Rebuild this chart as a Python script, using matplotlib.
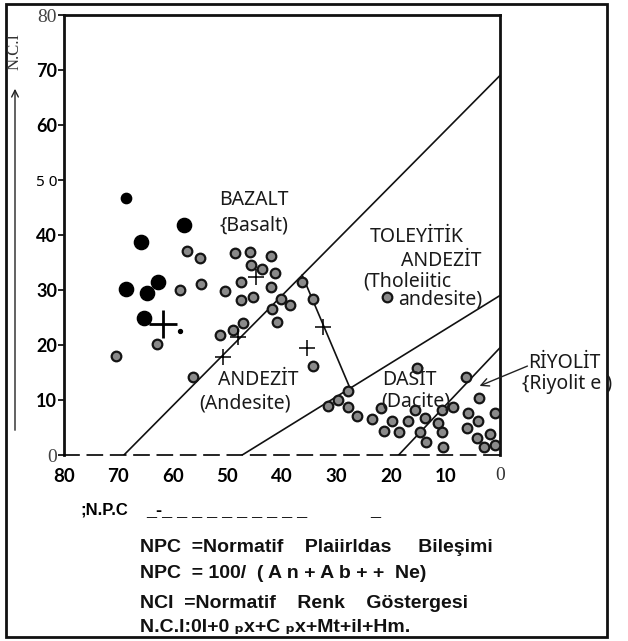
import numpy as np
import matplotlib.pyplot as plt
from matplotlib.patches import Rectangle, FancyArrowPatch

# NPC (normative plagioclase composition) vs N.C.I (normative colour index)

# large filled circles
black_npc = [58.0, 65.8, 68.7, 64.7, 62.7, 65.4]
black_nci = [41.8, 38.8, 30.2, 29.4, 31.4, 24.9]

# smaller filled circle and the tiny dot
small_npc = [68.7]
small_nci = [46.7]
dot_npc = [58.8]
dot_nci = [22.6]

# stippled grey circles
grey_npc = [57.4, 55.0, 58.7, 54.9, 63.0, 70.5, 56.3,
            48.7, 45.9, 42.0, 45.6, 43.6, 41.3, 47.6, 42.0, 50.5, 47.6,
            45.4, 40.2, 38.5, 41.9, 36.3, 34.4, 41.0, 47.1, 49.0, 51.4,
            34.3, 20.7,
            27.8, 29.7, 31.5, 27.8, 26.3, 21.9, 23.4, 19.9, 21.3, 18.5,
            16.8, 15.3, 6.3, 3.9, 15.6, 10.7, 8.6, 5.8, 0.9, 13.8, 11.4,
            4.0, 6.1, 1.8, 10.7, 14.7, 4.3, 13.6, 10.4, 2.9, 0.9]
grey_nci = [37.1, 35.9, 30.0, 31.1, 20.2, 18.0, 14.1,
            36.7, 36.9, 36.2, 34.5, 33.8, 33.1, 31.4, 30.6, 29.8, 28.2,
            28.7, 28.3, 27.3, 26.5, 31.4, 28.4, 24.1, 24.0, 22.7, 21.8,
            16.1, 28.7,
            11.6, 10.0, 8.9, 8.7, 7.1, 8.5, 6.5, 6.2, 4.4, 4.2,
            6.1, 15.8, 14.2, 10.3, 8.2, 8.2, 8.8, 7.7, 7.7, 6.7, 5.9,
            6.1, 4.9, 3.9, 4.2, 4.1, 3.1, 2.4, 1.4, 1.4, 1.8]

# crosses
cross_npc = [44.8, 48.0, 50.9, 32.5, 35.5]
cross_nci = [32.3, 21.4, 17.8, 23.2, 19.4]
big_cross_npc = [61.8]
big_cross_nci = [23.9]

# field boundaries (NPC, NCI end points)
line1_npc, line1_nci = [69.0, 0.0], [0.0, 69.0]
line2_npc, line2_nci = [47.3, 0.0], [0.0, 29.0]
line3_npc, line3_nci = [18.6, 0.0], [0.0, 19.5]
tie_npc, tie_nci = [36.3, 27.5], [32.7, 12.1]

xticks = [80, 70, 60, 50, 40, 30, 20, 10, 0]
yticks = [0, 10, 20, 30, 40, 50, 60, 70, 80]
ytick_labels = ['0', '10', '20', '30', '40', '5 0', '60', '70', '80']

W, H = 628, 641


def fx(px):
    return px / W


def fy(py):
    return 1 - py / H


fig = plt.figure(figsize=(W / 100, H / 100), dpi=100)
ax = fig.add_axes([fx(64), fy(455), fx(500) - fx(64), fy(15) - fy(455)])
ax.set_xlim(80, 0)
ax.set_ylim(0, 80)

lc = '#111111'
for xs, ys in [(line1_npc, line1_nci), (line2_npc, line2_nci),
               (line3_npc, line3_nci), (tie_npc, tie_nci)]:
    ax.plot(xs, ys, color=lc, lw=1.2, zorder=2)

ax.scatter(grey_npc, grey_nci, s=48, facecolor='#8a8a8a', edgecolor='#141414',
           linewidth=1.6, zorder=3)
ax.scatter(black_npc, black_nci, s=105, color='black', zorder=3)
ax.scatter(small_npc, small_nci, s=55, color='black', zorder=3)
ax.scatter(dot_npc, dot_nci, s=8, color='black', zorder=3)
ax.scatter(cross_npc, cross_nci, s=130, marker='+', color='black',
           linewidth=1.1, zorder=3)
ax.scatter(big_cross_npc, big_cross_nci, s=420, marker='+', color='black',
           linewidth=2.0, zorder=3)

# field names
lab = dict(family=['Noto Sans', 'DejaVu Sans'], fontsize=14, color='#1a1a1a',
           ha='center', va='center')
ax.text(45.1, 46.4, 'BAZALT', **lab)
ax.text(45.1, 41.8, '{Basalt)', **lab)
ax.text(15.2, 39.6, 'TOLEYİTİK', **lab)
ax.text(10.8, 35.2, 'ANDEZİT', **lab)
ax.text(17.0, 31.6, '(Tholeiitic', **lab)
ax.text(11.0, 28.2, 'andesite)', **lab)
ax.text(44.4, 13.6, 'ANDEZİT', **lab)
ax.text(46.8, 9.3, '(Andesite)', **lab)
ax.text(16.7, 13.6, 'DASİT', **lab)
ax.text(15.4, 9.8, '(Dacite)', **lab)

# frame of the axes
for side in ['left', 'top', 'right']:
    ax.spines[side].set_linewidth(2.0)
    ax.spines[side].set_color('#111111')
ax.spines['bottom'].set_linestyle((0, (9, 5)))
ax.spines['bottom'].set_linewidth(1.2)

ax.set_yticks(yticks)
ax.set_yticklabels(ytick_labels)
ax.set_xticks(xticks)
ax.set_xticklabels([str(v) for v in xticks])
ax.tick_params(axis='y', direction='out', length=4, width=1.2, pad=1)
ax.tick_params(axis='x', length=0, pad=9)

for t in ax.get_yticklabels():
    v = t.get_text()
    if v in ('80', '0'):
        t.set_fontfamily(['Liberation Serif', 'DejaVu Serif'])
        t.set_fontsize(14)
        t.set_color('#444444')
    elif v == '5 0':
        t.set_fontfamily(['Noto Sans', 'DejaVu Sans'])
        t.set_fontsize(11)
    else:
        t.set_fontfamily(['Lato', 'DejaVu Sans'])
        t.set_fontweight('bold')
        t.set_fontsize(13)

for t in ax.get_xticklabels():
    if t.get_text() == '0':
        t.set_fontfamily(['Liberation Serif', 'DejaVu Serif'])
        t.set_fontsize(14)
        t.set_color('#333333')
    else:
        t.set_fontfamily(['Lato', 'DejaVu Sans'])
        t.set_fontweight('bold')
        t.set_fontsize(13.5)

# outer border
fig.add_artist(Rectangle((fx(6), fy(637)), fx(607) - fx(6), fy(4) - fy(637),
                         transform=fig.transFigure, fill=False,
                         lw=2.0, ec='#111111'))

# N.C.I axis arrow
fig.add_artist(FancyArrowPatch((fx(15), fy(433)), (fx(15), fy(86)),
                               transform=fig.transFigure, arrowstyle='->',
                               mutation_scale=12, lw=1.0, color='#222222'))
fig.text(fx(15), fy(51), 'N.C.I', rotation=90, ha='center', va='center',
         family=['Liberation Serif', 'DejaVu Serif'], fontsize=12,
         color='#333333')

# Riyolit label and pointer
rl = dict(family=['Noto Sans', 'DejaVu Sans'], fontsize=14, color='#1a1a1a',
          ha='left', va='center')
fig.text(fx(528), fy(363), 'RİYOLİT', **rl)
fig.text(fx(522), fy(384), '{Riyolit e )', **rl)
fig.add_artist(FancyArrowPatch((fx(530), fy(365)), (fx(477), fy(387)),
                               transform=fig.transFigure, arrowstyle='->',
                               mutation_scale=14, lw=1.0, color='#222222'))

# NPC axis title
narrow = ['Liberation Sans Narrow', 'Liberation Sans', 'DejaVu Sans']
fig.text(fx(80), fy(510), ';N.P.C', family=narrow, fontweight='bold',
         fontsize=12, ha='left', va='center')
fig.text(fx(146), fy(512), '_-_ _ _ _ _ _ _ _ _ _', family=narrow,
         fontweight='bold', fontsize=13, ha='left', va='center')
fig.text(fx(370), fy(512), '_', family=narrow, fontweight='bold',
         fontsize=13, ha='left', va='center')

# definitions
defs = dict(family=narrow, fontweight='bold', fontsize=14, ha='left',
            va='center', color='#111111')
fig.text(fx(140), fy(547), 'NPC  =Normatif    Plaiirldas     Bileşimi', **defs)
fig.text(fx(140), fy(574), 'NPC  = 100/  ( A n + A b + +  Ne)', **defs)
fig.text(fx(140), fy(604), 'NCI  =Normatif    Renk    Göstergesi', **defs)
fig.text(fx(140), fy(628), 'N.C.I:0I+0 ₚx+C ₚx+Mt+iI+Hm.',
         family=narrow, fontweight='bold', fontsize=14,
         ha='left', va='center', color='#111111')

fig.savefig('out.png', dpi=100)
